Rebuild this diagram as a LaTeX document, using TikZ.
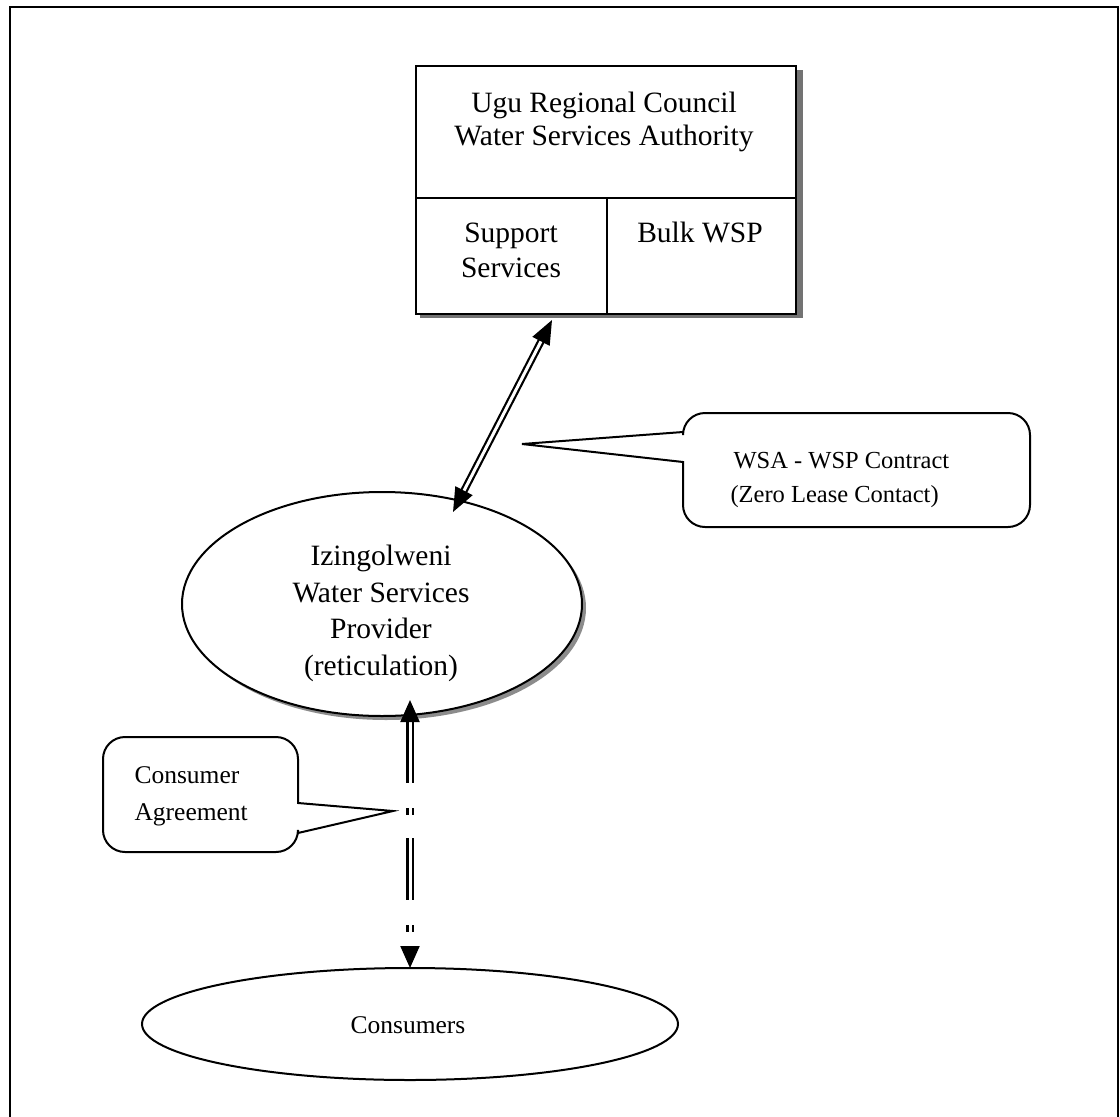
\documentclass[tikz,border=0pt]{standalone}
\usepackage{fontspec}
\setmainfont{Liberation Serif}
\usetikzlibrary{shapes.geometric,arrows.meta}
\begin{document}
\begin{tikzpicture}[x=1pt,y=-1pt,
  ln/.style={line width=2pt},
  big/.style={font=\fontsize{29.5}{34}\selectfont},
  callfont/.style={font=\fontsize{24.5}{30}\selectfont},
  dbl/.style={double, double distance=3pt, line width=2.2pt},
  shadowc/.style={black!55}
]
\useasboundingbox (0,0) rectangle (1120,1117);
% outer frame
\draw[line width=2.5pt] (10,1117) -- (10,7) -- (1118,7) -- (1118,1117);

% top box with shadow
\fill[shadowc] (420,70) rectangle (803,318);
\node[draw, ln, fill=white, minimum width=380pt, minimum height=248pt, inner sep=0pt, anchor=north west] (wsa) at (415,65) {};
\draw[ln] (415,198) -- (795,198);
\draw[ln] (607,198) -- (607,313);
\node[big, anchor=base] (t1) at (604,112) {Ugu Regional Council};
\node[big, anchor=base] (t2) at (604,145) {Water Services Authority};
\node[big, anchor=base] (t3) at (511,242) {Support};
\node[big, anchor=base] (t4) at (511,277) {Services};
\node[big, anchor=base] (t5) at (700,242) {Bulk WSP};

% provider ellipse with shadow
\node[ellipse, fill=black!45, minimum width=400pt, minimum height=224pt, inner sep=0pt] (wsps) at (386,608) {};
\node[ellipse, draw, ln, fill=white, minimum width=400pt, minimum height=224pt, inner sep=0pt] (wsp) at (382,604) {};
\node[big, anchor=base] (p1) at (381,565) {Izingolweni};
\node[big, anchor=base] (p2) at (381,602) {Water Services};
\node[big, anchor=base] (p3) at (381,638) {Provider};
\node[big, anchor=base] (p4) at (381,675) {(reticulation)};

% consumers ellipse
\node[ellipse, draw, ln, minimum width=536pt, minimum height=112pt, inner sep=0pt] (cons) at (410,1024) {};
\node[font=\fontsize{25.5}{30}\selectfont, anchor=base] (c1) at (408,1033) {Consumers};

% connectors
\coordinate (a1) at (552,320);
\coordinate (a2) at (453,512);
\draw[dbl, {Triangle[length=24pt,width=19pt]}-{Triangle[length=24pt,width=19pt]}] (a1) -- (a2);

\coordinate (b1) at (410,700);
\coordinate (b2) at (410,968);
\draw[dbl, dash pattern=on 62pt off 25pt on 7pt off 23pt, {Triangle[length=22pt,width=19pt]}-{Triangle[length=22pt,width=19pt]}] (b1) -- (b2);

% WSA - WSP callout
\coordinate (wtip) at (522,444);
\draw[ln] (wtip) -- (683,462) [rounded corners=22pt] -- (683,527) -- (1030,527) -- (1030,413) -- (683,413) [sharp corners] -- (683,432) -- cycle;
\node[callfont, anchor=base west] (w1) at (730,468) {WSA - WSP Contract};
\node[callfont, anchor=base west] (w2) at (727,502) {(Zero Lease Contact)};

% consumer agreement callout
\coordinate (ctip) at (393,811);
\draw[ln] (ctip) -- (298,833) [rounded corners=22pt] -- (298,852) -- (103,852) -- (103,737) -- (298,737) [sharp corners] -- (298,803) -- cycle;
\node[font=\fontsize{25.5}{30}\selectfont, anchor=base west] (ca1) at (131,783) {Consumer};
\node[font=\fontsize{25.5}{30}\selectfont, anchor=base west] (ca2) at (131,820) {Agreement};
\end{tikzpicture}
\end{document}
